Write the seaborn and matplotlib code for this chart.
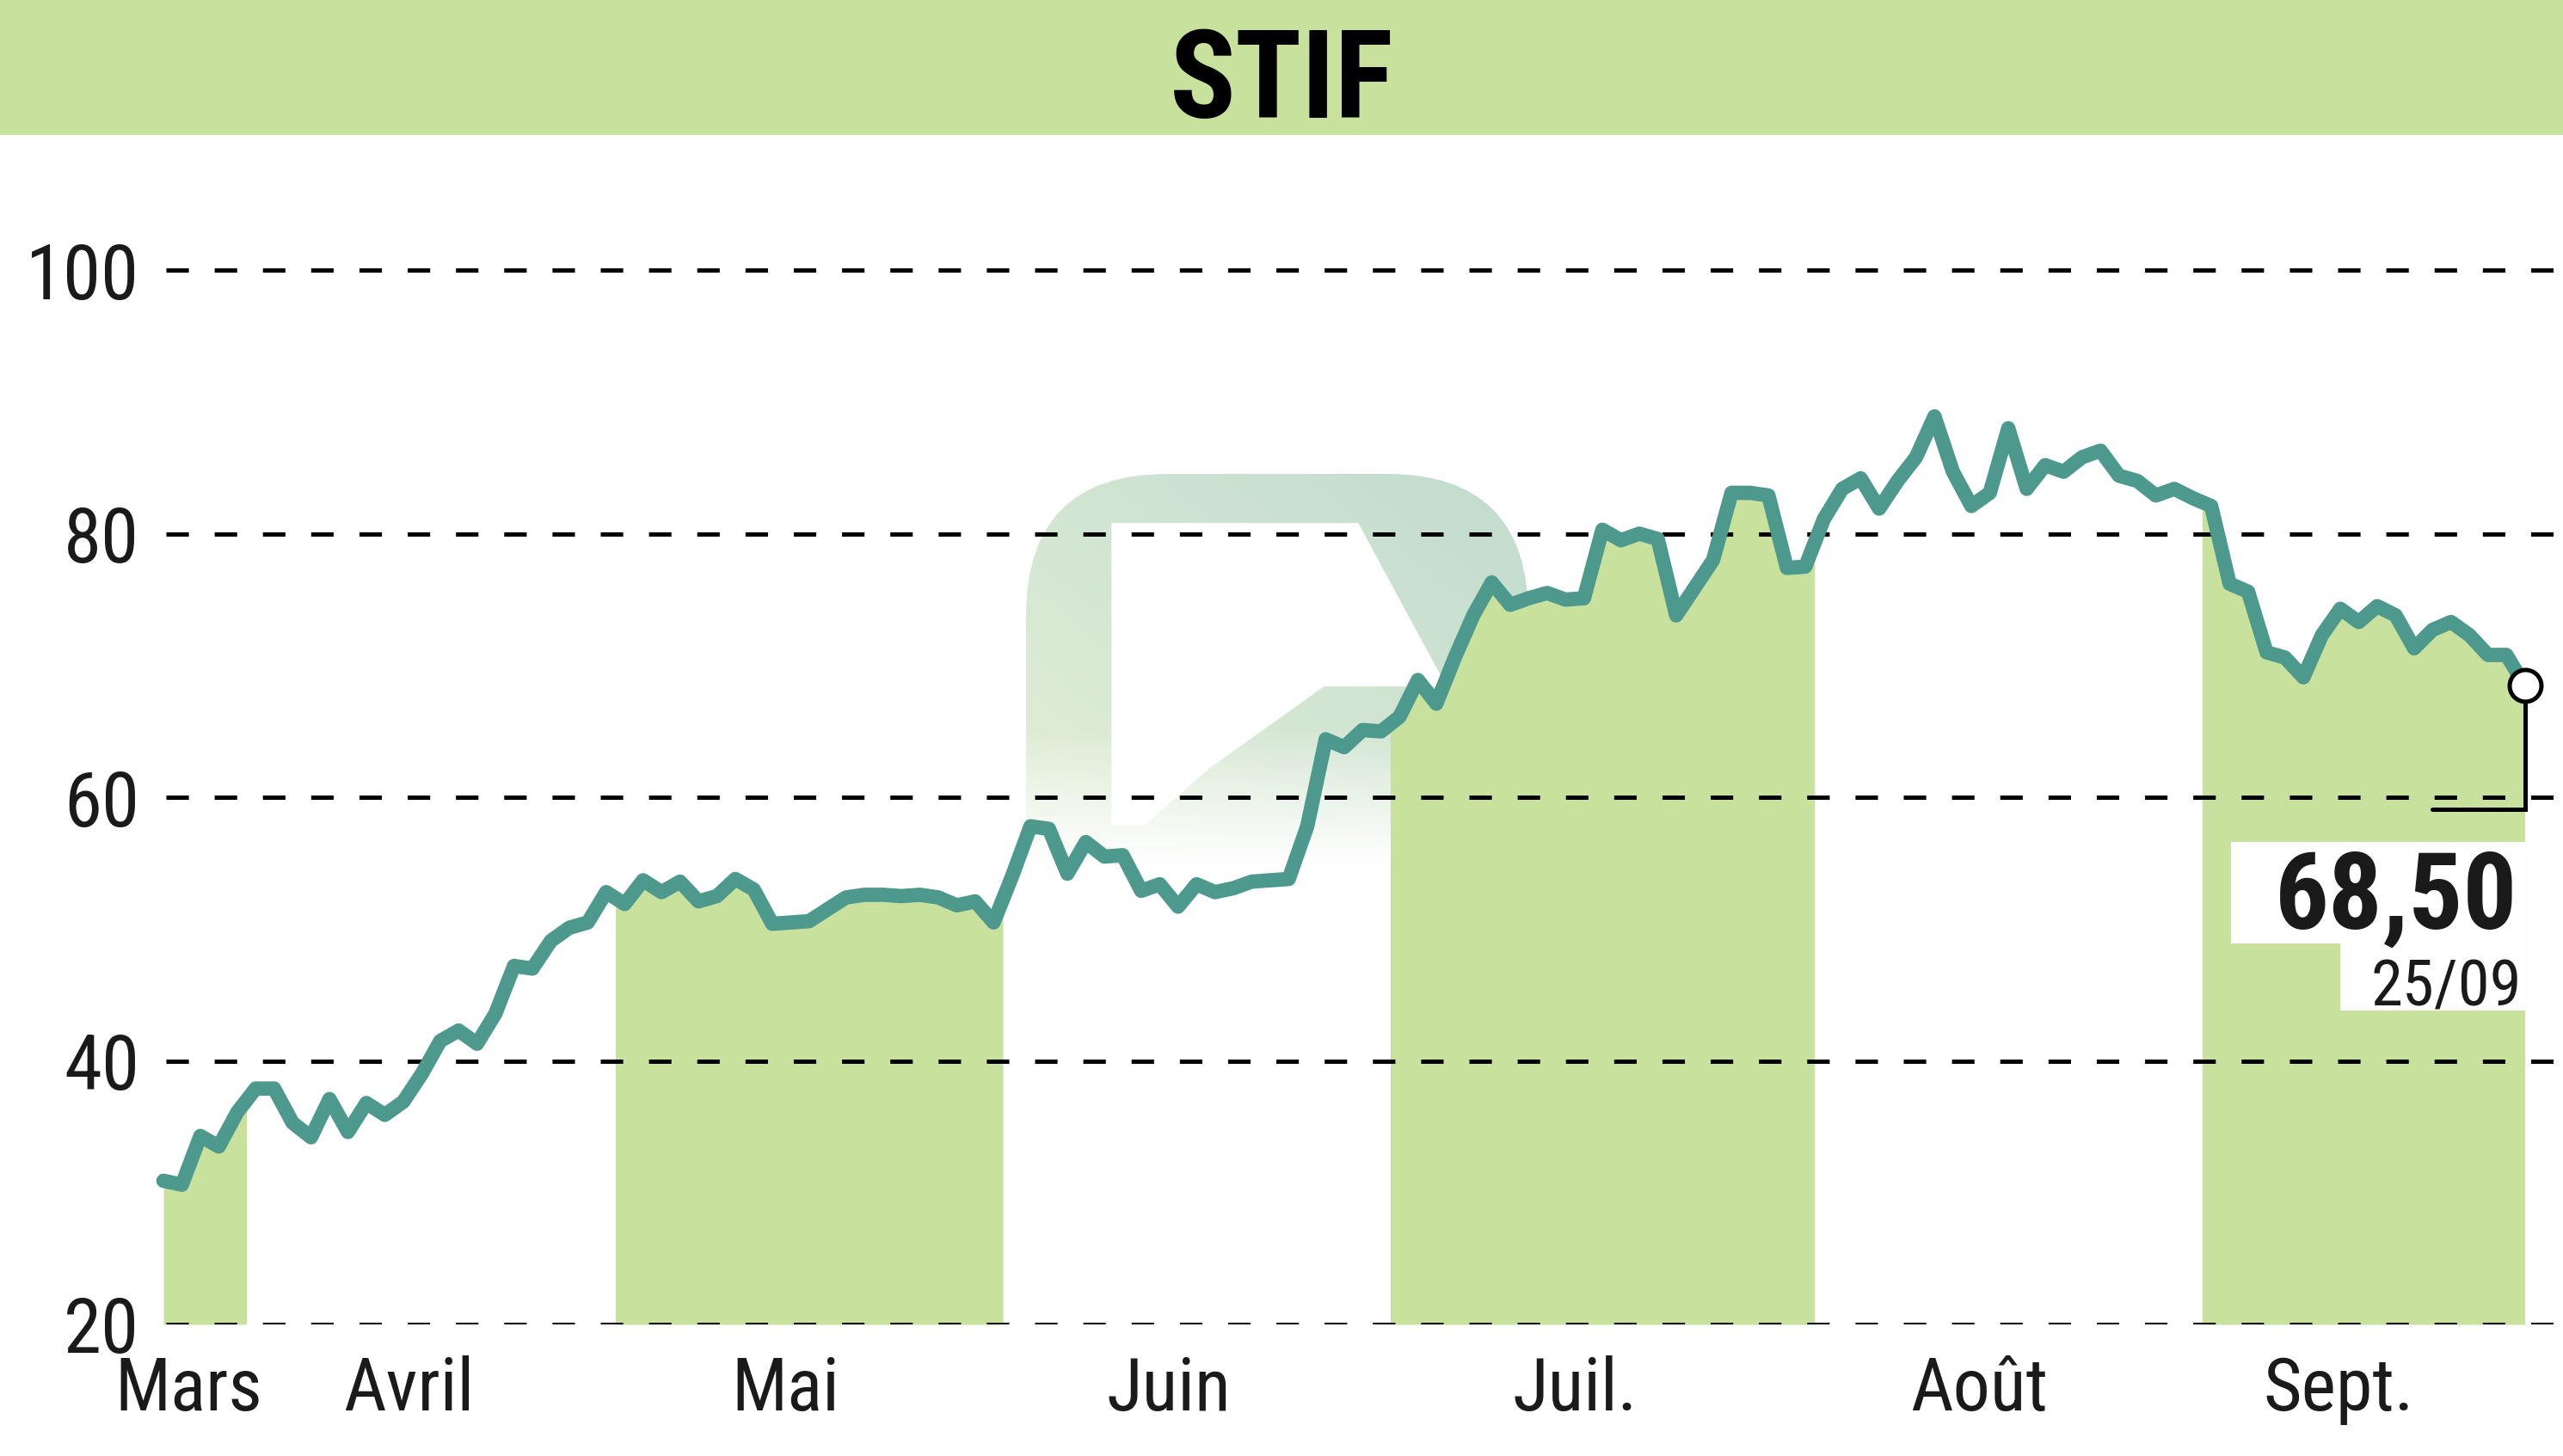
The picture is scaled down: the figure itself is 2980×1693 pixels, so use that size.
import numpy as np
import pandas as pd
import matplotlib
matplotlib.use("Agg")
import matplotlib.pyplot as plt
import seaborn as sns
from matplotlib.patches import Rectangle, FancyBboxPatch, Polygon
from matplotlib import font_manager as fm
from matplotlib.textpath import TextPath

# ---------------- data ----------------
values = [
    30.9, 30.6, 34.3, 33.5, 36.1,                                   # Mars
    37.9, 37.9, 35.3, 34.2, 37.1, 34.6, 36.8, 35.9, 36.9, 39.0,     # Avril
    41.5, 42.3, 41.3, 43.6, 47.2, 47.0, 49.1, 50.1, 50.5, 52.8,
    51.9, 53.7, 52.8, 53.6, 52.1, 52.5, 53.8, 53.0, 50.4, 50.5,     # Mai
    50.6, 51.5, 52.4, 52.6, 52.6, 52.5, 52.6, 52.4, 51.8, 52.1, 50.5,
    54.0, 57.8, 57.6, 54.2, 56.6, 55.5, 55.6, 52.9, 53.4, 51.7,     # Juin
    53.4, 52.8, 53.1, 53.6, 53.7, 53.8, 57.8, 64.4, 63.8, 65.1, 65.0,
    66.1, 68.9, 67.1, 70.6, 73.8, 76.3, 74.6, 75.1, 75.5, 75.0,     # Juil.
    75.1, 80.3, 79.5, 80.0, 79.6, 73.8, 75.9, 78.0, 83.1, 83.1,
    82.9, 77.4, 77.5,
    81.1, 83.4, 84.2, 81.9, 84.0, 85.8, 88.9, 84.7, 82.1, 83.1,     # Août
    88.0, 83.4, 85.2, 84.7, 85.8, 86.3, 84.4, 84.0, 82.9, 83.4, 82.7,
    82.1, 76.2, 75.6, 71.0, 70.6, 69.1, 72.3, 74.3, 73.3, 74.5,     # Sept.
    73.8, 71.3, 72.7, 73.3, 72.3, 70.8, 70.8, 68.5,
]
month_names = ["Mars", "Avril", "Mai", "Juin", "Juil.", "Août", "Sept."]
month_first_idx = [0, 5, 25, 46, 67, 90, 111]
month_label_pos = [1.35, 13.3, 33.7, 54.5, 76.5, 98.4, 117.9]
shaded_months = [0, 2, 4, 6]
y_ticks = [20, 40, 60, 80, 100]
y_tick_labels = ["20", "40", "60", "80", "100"]
title = "STIF"
last_price_label = "68,50"
last_date_label = "25/09"

# ---------------- style ----------------
W, H, DPI = 2980, 1693, 200
TEAL = "#4d998d"
GREEN = "#c8e29d"
INK = "#1a1a1a"

sns.set_style("white")
plt.rcParams["font.family"] = ["DejaVu Sans"]
plt.rcParams["lines.scale_dashes"] = False


# ---- pick a condensed face if one is installed ----
def _wnum(w):
    if isinstance(w, (int, float)):
        return w
    return fm.weight_dict.get(w, 400)


def _stretch_rank(f):
    st = f.stretch
    if isinstance(st, str):
        st = fm.stretch_dict.get(st, 500)
    return st


def _is_cond(f):
    txt = (f.name + " " + f.fname).lower()
    return _stretch_rank(f) < 500 or "narrow" in txt or "condensed" in txt


PREF = ["liberation sans narrow", "roboto condensed", "open sans condensed",
        "noto sans", "dejavu sans", "roboto", "open sans", "lato", "inter"]


def pick_font(target_weight):
    cands = [f for f in fm.fontManager.ttflist
             if _is_cond(f) and f.style == "normal" and f.fname.lower().endswith((".ttf", ".otf"))]
    best, best_key = None, None
    for f in cands:
        name = f.name.lower()
        pref = next((i for i, p in enumerate(PREF) if name.startswith(p)), len(PREF))
        key = (abs(_wnum(f.weight) - target_weight) > 150,
               abs(_stretch_rank(f) - 300) > 50,
               pref,
               abs(_wnum(f.weight) - target_weight))
        if best_key is None or key < best_key:
            best, best_key = f, key
    if best is None or best_key[0]:
        return fm.FontProperties(family="DejaVu Sans",
                                 weight="bold" if target_weight >= 600 else "normal")
    return fm.FontProperties(fname=best.fname)


FP_REG = pick_font(400)
FP_BOLD = pick_font(700)


def fit_size(sample_w, sample_h, target_w_px, target_h_px, fp):
    """font size (pt) so that ink of sample fits target width/height (px)."""
    ew = TextPath((0, 0), sample_w, size=100, prop=fp).get_extents().width
    eh = TextPath((0, 0), sample_h, size=100, prop=fp).get_extents().height
    tw = target_w_px * 72 / DPI
    th = target_h_px * 72 / DPI
    return 100 * min(tw / ew, th / eh)


S_TITLE = fit_size("STIF", "TIF", 252, 109, FP_BOLD)
S_YTICK = fit_size("100", "100", 120, 67, FP_REG)
S_MONTH = fit_size("Mars", "Mar", 161, 68, FP_REG)
S_PRICE = fit_size("68,50", "6850", 272, 91, FP_BOLD)
S_DATE = fit_size("25/09", "2509", 167, 61, FP_REG)

fig = plt.figure(figsize=(W / DPI, H / DPI), dpi=DPI, facecolor="white")


def fx(px):
    return px / W


def fy(py):
    return 1 - py / H


# ---------------- watermark (decoration) ----------------
wm_l, wm_t, wm_r, wm_b = 1193, 551, 1777, 1007
wm_ax = fig.add_axes([fx(wm_l), fy(wm_b), (wm_r - wm_l) / W, (wm_b - wm_t) / H], zorder=-1)
wm_ax.set_xlim(0, 1)
wm_ax.set_ylim(0, 1)
wm_ax.axis("off")
gx, gy = np.meshgrid(np.linspace(0, 1, 200), np.linspace(0, 1, 200))
t = np.clip((gx + gy) / 2, 0, 1)[..., None]
c1 = np.array([0.89, 0.94, 0.84])
c2 = np.array([0.76, 0.86, 0.81])
rgb = c1 * (1 - t) + c2 * t
alpha = np.clip(gy / 0.35, 0, 1)[..., None]
img = np.concatenate([rgb, alpha], axis=2)
im = wm_ax.imshow(img, extent=(0, 1, 0, 1), origin="lower", aspect="auto",
                  interpolation="bilinear")
wpx, hpx = wm_r - wm_l, wm_b - wm_t
clip = FancyBboxPatch((0, -0.4), 1, 1.4,
                      boxstyle="round,pad=0,rounding_size=%f" % (165 / wpx),
                      mutation_aspect=wpx / hpx, transform=wm_ax.transData)
im.set_clip_path(clip)


def wm_pt(xs, ys):
    return ((xs * 1.9005 - wm_l) / wpx, 1 - (ys * 1.9005 - wm_t) / hpx)


inner = [wm_pt(*p) for p in [(680, 320), (831, 320), (885, 420), (810, 420),
                               (740, 470), (700, 505), (680, 505)]]
wm_ax.add_patch(Polygon(inner, closed=True, fc="white", ec="none", zorder=3))

# ---------------- main axes ----------------
ax = fig.add_axes([0, fy(1540), 1, (1540 - 157) / H], zorder=1)
ax.set_facecolor("none")

n = len(values)
idx = np.arange(n)
df = pd.DataFrame({"jour": idx, "cours": values})

# shaded months
for m in shaded_months:
    start = max(month_first_idx[m] - 0.5, 0)
    end = month_first_idx[m + 1] - 0.5 if m + 1 < len(month_first_idx) else n - 1
    inside = idx[(idx > start) & (idx < end)]
    xs = np.concatenate([[start], inside, [end]])
    ys = np.interp(xs, idx, values)
    ax.fill_between(xs, 20, ys, color=GREEN, lw=0, zorder=1)

# dashed grid
for yv in y_ticks:
    ax.axhline(yv, xmin=fx(193), xmax=1, color="black", lw=1.8,
               ls=(0, (9.4, 10.8)), zorder=2)

sns.lineplot(data=df, x="jour", y="cours", ax=ax, color=TEAL, lw=6.0, zorder=3)

# last value marker & connector
conn_y = 59.1
ax.plot([n - 1, n - 1, n - 6], [values[-1], conn_y, conn_y], color="black", lw=1.8,
        zorder=4, solid_joinstyle="miter")
ax.plot([n - 1], [values[-1]], "o", ms=13.3, mfc="white", mec="black", mew=1.8, zorder=5)

ax.set_xlim(-8.86, 130.07)
ax.set_ylim(20, 110.25)
ax.set_xlabel("")
ax.set_ylabel("")
for s in ax.spines.values():
    s.set_visible(False)

ax.set_yticks(y_ticks)
ax.set_yticklabels(y_tick_labels)
ax.tick_params(axis="y", length=0, pad=-58.3, labelcolor=INK)
for lab in ax.get_yticklabels():
    lab.set_fontproperties(FP_REG)
    lab.set_fontsize(S_YTICK)
ax.set_xticks(month_label_pos)
ax.set_xticklabels(month_names)
ax.tick_params(axis="x", length=0, pad=13, labelcolor=INK)
for lab in ax.get_xticklabels():
    lab.set_fontproperties(FP_REG)
    lab.set_fontsize(S_MONTH)

# ---------------- title bar ----------------
fig.add_artist(Rectangle((0, fy(157)), 1, 157 / H, transform=fig.transFigure,
                         fc=GREEN, ec="none", zorder=3))
fig.text(0.5, fy(137), title, ha="center", va="baseline", fontproperties=FP_BOLD,
         fontsize=S_TITLE, color="black", zorder=4)

# ---------------- last value label ----------------
fig.add_artist(Rectangle((fx(2594), fy(1097)), (2936 - 2594) / W, (1097 - 979) / H,
                         transform=fig.transFigure, fc="white", ec="none", zorder=3))
fig.add_artist(Rectangle((fx(2721), fy(1175)), (2936 - 2721) / W, (1175 - 1097) / H,
                         transform=fig.transFigure, fc="white", ec="none", zorder=3))
fig.text(fx(2927), fy(1080), last_price_label, ha="right", va="baseline",
         fontproperties=FP_BOLD, fontsize=S_PRICE, color=INK, zorder=4)
fig.text(fx(2932), fy(1169), last_date_label, ha="right", va="baseline",
         fontproperties=FP_REG, fontsize=S_DATE, color=INK, zorder=4)

fig.savefig("out.png", dpi=DPI, facecolor="white")
